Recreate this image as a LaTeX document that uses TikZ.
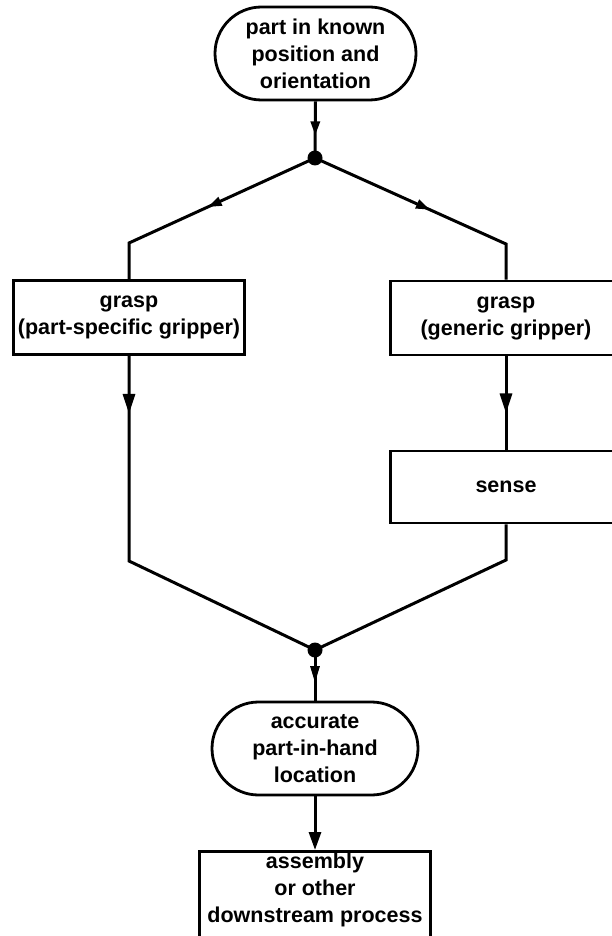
\documentclass[tikz,border=0pt]{standalone}
\usepackage{fontspec}
\setmainfont{Liberation Sans}
\usetikzlibrary{arrows.meta,shapes.misc,decorations.markings}
\tikzset{
  lbl/.style={font=\bfseries\fontsize{21.5}{27}\selectfont, align=center},
  flow/.style={line width=3pt},
  term/.style={lbl, draw, line width=2.8pt, rounded rectangle, minimum height=93pt, inner sep=2pt},
  proc/.style={lbl, draw, line width=2.8pt, rectangle, minimum width=231pt, minimum height=74pt, inner sep=2pt},
  junc/.style={circle, fill, inner sep=0pt, minimum size=15pt},
  midtip/.style n args={3}{postaction={decorate}, decoration={markings,
     mark=at position #1 with {\arrow{Triangle[length=#2,width=#3]}}}},
}
\begin{document}
\begin{tikzpicture}[x=1pt,y=1pt]
\useasboundingbox (0,0) rectangle (612,-936);
\clip (0,0) rectangle (612,-936);
\fill[white] (0,0) rectangle (612,-936);

\node[term, minimum width=205pt] (s1) at (315.5,-53.5) {part in known\\position and\\orientation};
\node[junc] (j1) at (315,-158) {};
\coordinate (cl) at (129,-243);
\coordinate (cr) at (506,-244);
\node[proc] (lg) at (129,-317.5) {grasp\\(part-specific gripper)};
\node[proc] (rg) at (506,-318) {grasp\\(generic gripper)};
\node[proc, minimum height=72pt] (sn) at (506,-487) {sense};
\coordinate (ll) at (129,-561);
\coordinate (lr) at (506,-560);
\node[junc] (j2) at (315,-650) {};
\node[term, minimum width=210pt] (s2) at (315,-748.5) {accurate\\part-in-hand\\location};
\node[proc, anchor=north, text depth=20pt] (ab) at (315,-850) {assembly\\or other\\downstream process};

\draw[flow, midtip={34pt}{14pt}{9pt}] (s1.south) -- (j1.center);
\draw[flow, midtip={118pt}{14pt}{9pt}, line join=miter] (j1.center) -- (cl) -- (lg.north);
\draw[flow, midtip={126pt}{14pt}{9pt}, line join=miter] (j1.center) -- (cr) -- (rg.north);
\draw[flow, midtip={58pt}{20pt}{12pt}, line join=miter] (lg.south) -- (ll) -- (j2.center);
\draw[flow, midtip={57pt}{20pt}{12pt}] (rg.south) -- (sn.north);
\draw[flow, line join=miter] (sn.south) -- (lr) -- (j2.center);
\draw[flow, midtip={33pt}{17pt}{9pt}] (j2.center) -- (s2.north);
\draw[flow, -{Triangle[length=18pt,width=12pt]}] (s2.south) -- (ab.north);
\end{tikzpicture}
\end{document}
